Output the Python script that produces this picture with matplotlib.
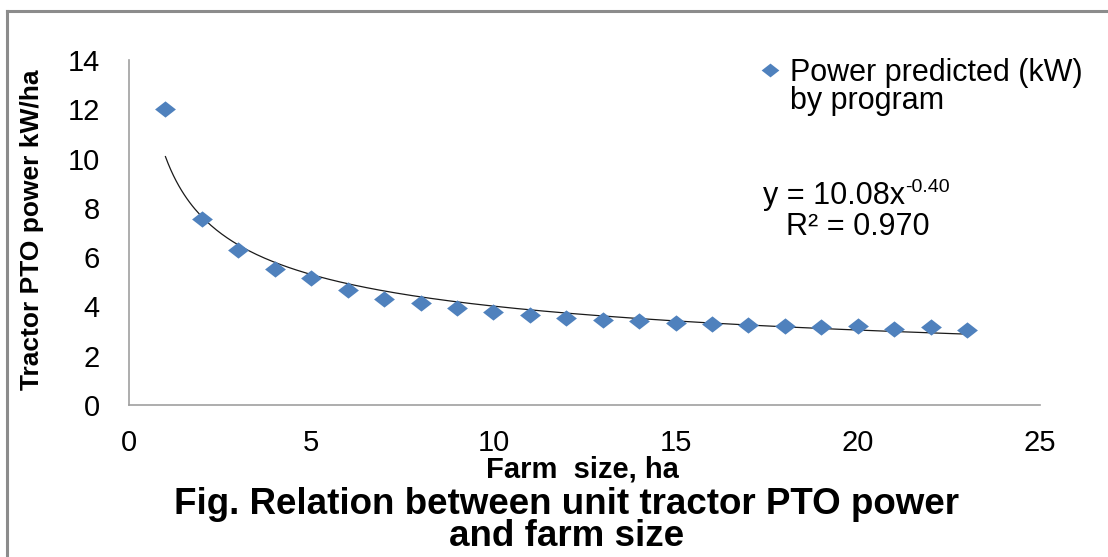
import numpy as np
import matplotlib
matplotlib.use("Agg")
import matplotlib.pyplot as plt
from matplotlib.lines import Line2D
from matplotlib.path import Path

plt.rcParams['font.family'] = ['Liberation Sans', 'DejaVu Sans']

# ---- data ----
farm_size = [1, 2, 3, 4, 5, 6, 7, 8, 9, 10, 11, 12, 13, 14, 15, 16, 17, 18, 19, 20, 21, 22, 23]
power_predicted = [12.0, 7.54, 6.27, 5.51, 5.15, 4.66, 4.32, 4.14, 3.92, 3.77, 3.66, 3.52,
                   3.45, 3.41, 3.34, 3.29, 3.24, 3.20, 3.16, 3.22, 3.08, 3.18, 3.03]
fit_coef = 10.08
fit_exp = -0.40
r_squared = 0.970
x_ticks = [0, 5, 10, 15, 20, 25]
y_ticks = [0, 2, 4, 6, 8, 10, 12, 14]

W, H = 1108, 557
fig = plt.figure(figsize=(W / 100, H / 100), dpi=100)

def fx(px):
    return px / W

def fy(py):
    return 1 - py / H

ax = fig.add_axes([fx(129), fy(405), fx(1040) - fx(129), fy(60) - fy(405)])

diamond = Path([(-1, 0), (0, 0.78), (1, 0), (0, -0.78), (-1, 0)],
               [Path.MOVETO, Path.LINETO, Path.LINETO, Path.LINETO, Path.CLOSEPOLY])

ax.plot(farm_size, power_predicted, linestyle='none', marker=diamond, markersize=15,
        color='#4F81BD', markeredgewidth=0, label='Power predicted (kW)',
        zorder=3)

xs = np.linspace(min(farm_size), max(farm_size), 300)
ax.plot(xs, fit_coef * xs ** fit_exp, color='#1a1a1a', linewidth=0.9, zorder=2)

ax.set_xlim(0, 25)
ax.set_ylim(0, 14)
ax.set_xticks(x_ticks)
ax.set_yticks(y_ticks)
ax.tick_params(axis='both', length=0, labelsize=21)
ax.tick_params(axis='x', pad=17)
ax.tick_params(axis='y', pad=21)
for s in ['top', 'right']:
    ax.spines[s].set_visible(False)
for s in ['left', 'bottom']:
    ax.spines[s].set_color('#A0A0A0')
    ax.spines[s].set_linewidth(1.2)

ax.set_xlabel('Farm  size, ha', fontsize=21, fontweight='bold')
ax.xaxis.set_label_coords(0.5, fy(470), transform=fig.transFigure)
ax.set_ylabel('Tractor PTO power kW/ha', fontsize=19, fontweight='bold')
ax.yaxis.set_label_coords(fx(32), 0.5 * (fy(70) + fy(390)), transform=fig.transFigure)
ax.xaxis.label.set_x(fx(582))
ax.xaxis.label.set_va('center')
ax.yaxis.label.set_va('center')

fig.text(fx(567), fy(504), 'Fig. Relation between unit tractor PTO power',
         ha='center', va='center', fontsize=26.5, fontweight='bold')
fig.text(fx(567), fy(537), 'and farm size',
         ha='center', va='center', fontsize=26.5, fontweight='bold')

leg = ax.legend(loc='center left', bbox_to_anchor=(fx(762), fy(73)),
                bbox_transform=fig.transFigure, frameon=False, fontsize=22,
                handlelength=0.55, handletextpad=0.35, borderpad=0, borderaxespad=0,
                markerscale=0.85)
fig.text(fx(790), fy(101), 'by program', ha='left', va='center', fontsize=22)

eq = fig.text(fx(763), fy(196), 'y = 10.08x', ha='left', va='center', fontsize=22)
fig.canvas.draw()
bb = eq.get_window_extent()
fig.text(bb.x1 / W, fy(188), '-0.40', ha='left', va='center', fontsize=14)
fig.text(fx(786), fy(227), 'R² = 0.970', ha='left', va='center', fontsize=22)

# outer frame
fig.add_artist(Line2D([fx(7), 1], [fy(11), fy(11)], transform=fig.transFigure,
                      color='#8C8C8C', linewidth=2.2))
fig.add_artist(Line2D([fx(7), fx(7)], [fy(11), 0], transform=fig.transFigure,
                      color='#8C8C8C', linewidth=2.2))

fig.savefig('out.png', dpi=100)
